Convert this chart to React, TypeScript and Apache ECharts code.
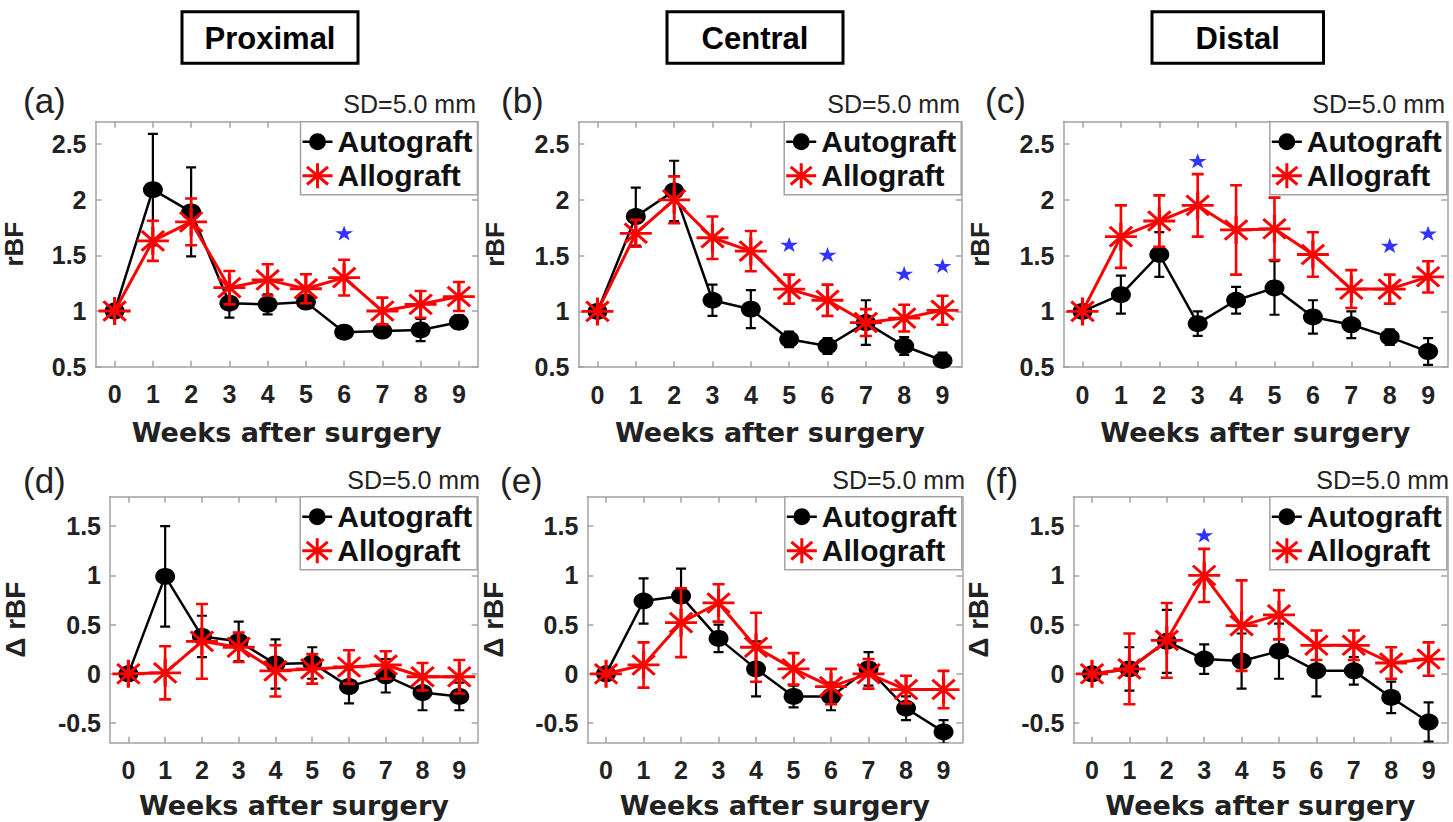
import React, { useEffect, useRef } from 'react';
import * as echarts from 'echarts';

// ---------- data ----------
const weeks = ['0', '1', '2', '3', '4', '5', '6', '7', '8', '9'];
const rbfTicks = [0.5, 1, 1.5, 2, 2.5];
const drbfTicks = [-0.5, 0, 0.5, 1, 1.5];
const columnTitles = ['Proximal', 'Central', 'Distal'];
const panelLetters = ['(a)', '(b)', '(c)', '(d)', '(e)', '(f)'];
const sdText = 'SD=5.0 mm';

// (a) Proximal rBF
const autoA = [1.0, 2.09, 1.89, 1.07, 1.06, 1.08, 0.81, 0.82, 0.83, 0.9];
const autoAErr = [0, 0.5, 0.4, 0.13, 0.09, 0.05, 0.03, 0.05, 0.1, 0.06];
const alloA = [1.0, 1.63, 1.8, 1.21, 1.28, 1.2, 1.3, 1.0, 1.06, 1.13];
const alloAErr = [0, 0.18, 0.21, 0.15, 0.14, 0.13, 0.16, 0.12, 0.12, 0.13];
const sigA = [null, null, null, null, null, null, 1.7, null, null, null];

// (b) Central rBF
const autoB = [1.0, 1.85, 2.08, 1.1, 1.02, 0.75, 0.69, 0.9, 0.69, 0.56];
const autoBErr = [0, 0.26, 0.27, 0.14, 0.17, 0.07, 0.07, 0.2, 0.08, 0.07];
const alloB = [1.0, 1.7, 2.0, 1.66, 1.54, 1.2, 1.1, 0.9, 0.94, 1.01];
const alloBErr = [0, 0.12, 0.21, 0.19, 0.18, 0.13, 0.14, 0.12, 0.12, 0.13];
const sigB = [null, null, null, null, null, 1.6, 1.51, null, 1.34, 1.41];

// (c) Distal rBF
const autoC = [1.0, 1.15, 1.51, 0.89, 1.1, 1.21, 0.95, 0.88, 0.77, 0.64];
const autoCErr = [0, 0.17, 0.2, 0.11, 0.12, 0.24, 0.15, 0.12, 0.07, 0.12];
const alloC = [1.0, 1.67, 1.81, 1.95, 1.73, 1.74, 1.51, 1.2, 1.2, 1.31];
const alloCErr = [0, 0.28, 0.23, 0.28, 0.4, 0.28, 0.2, 0.17, 0.13, 0.14];
const sigC = [null, null, null, 2.35, null, null, null, null, 1.59, 1.7];

// (d) Proximal delta rBF
const autoD = [0, 0.99, 0.38, 0.33, 0.1, 0.11, -0.13, -0.02, -0.19, -0.23];
const autoDErr = [0, 0.51, 0.21, 0.2, 0.25, 0.16, 0.17, 0.17, 0.18, 0.14];
const alloD = [0, 0.01, 0.33, 0.27, 0.03, 0.05, 0.07, 0.09, -0.03, -0.03];
const alloDErr = [0, 0.27, 0.38, 0.15, 0.26, 0.15, 0.17, 0.14, 0.14, 0.17];
const sigD = [null, null, null, null, null, null, null, null, null, null];

// (e) Central delta rBF
const autoE = [0, 0.74, 0.79, 0.36, 0.05, -0.23, -0.23, 0.05, -0.35, -0.59];
const autoEErr = [0, 0.23, 0.28, 0.14, 0.28, 0.11, 0.14, 0.17, 0.12, 0.12];
const alloE = [0, 0.09, 0.52, 0.72, 0.27, 0.05, -0.13, 0.0, -0.16, -0.16];
const alloEErr = [0, 0.23, 0.35, 0.19, 0.35, 0.16, 0.18, 0.15, 0.14, 0.19];
const sigE = [null, null, null, null, null, null, null, null, null, null];

// (f) Distal delta rBF
const autoF = [0, 0.05, 0.33, 0.15, 0.13, 0.23, 0.03, 0.03, -0.24, -0.49];
const autoFErr = [0, 0.22, 0.32, 0.15, 0.28, 0.28, 0.26, 0.14, 0.16, 0.2];
const alloF = [0, 0.05, 0.34, 1.0, 0.49, 0.6, 0.29, 0.29, 0.11, 0.15];
const alloFErr = [0, 0.36, 0.38, 0.27, 0.46, 0.25, 0.15, 0.15, 0.16, 0.17];
const sigF = [null, null, null, 1.41, null, null, null, null, null, null];

// ---------- styling / layout ----------
const W = 1453;
const H = 822;
const FONT = "'Liberation Sans', Arial, Helvetica, sans-serif";
const WIDE_FONT = "'DejaVu Sans', 'Liberation Sans', sans-serif";
const AXIS_GRAY = '#a3a3a3';
const TEXT = '#222222';
const RED = '#ff0000';

const ASTERISK =
  'path://M0 45L100 45L100 55L0 55Z M45 0L55 0L55 100L45 100Z M18.54 11.46L88.54 81.46L81.46 88.54L11.46 18.54Z M81.46 11.46L88.54 18.54L18.54 88.54L11.46 81.46Z';
const STAR =
  'path://M50 0L61.8 35.1L98.6 35.1L68.8 56.7L80.2 91.8L50 70.2L19.8 91.8L31.2 56.7L1.4 35.1L38.2 35.1Z';
// legend icons (30 x 26 box): line with marker
const LEGEND_CIRCLE =
  'path://M0 11.8L6.6 11.8L6.6 14.2L0 14.2Z M23.4 11.8L30 11.8L30 14.2L23.4 14.2Z M6.5 13A8.5 8.5 0 1 1 23.5 13A8.5 8.5 0 1 1 6.5 13Z';
const LEGEND_ASTERISK =
  'path://M0 11.5L30 11.5L30 14.5L0 14.5Z M13.5 0.5L16.5 0.5L16.5 25.5L13.5 25.5Z M5.46 3.05L26.46 20.65L24.54 22.95L3.54 5.35Z M26.46 5.35L5.46 22.95L3.54 20.65L24.54 3.05Z';

type Panel = {
  grid: { left: number; top: number; width: number; height: number };
  yMin: number;
  yMax: number;
  ticks: number[];
  yName: string;
  yNameGap: number;
  xNameGap: number;
  auto: number[];
  autoErr: number[];
  allo: number[];
  alloErr: number[];
  sig: (number | null)[];
  letterPos: [number, number];
  sdPos: [number, number];
};

const panels: Panel[] = [
  { grid: { left: 93, top: 121.7, width: 385, height: 245 }, yMin: 0.5, yMax: 2.7, ticks: rbfTicks, yName: 'rBF', yNameGap: 68.5, xNameGap: 52, auto: autoA, autoErr: autoAErr, allo: alloA, alloErr: alloAErr, sig: sigA, letterPos: [23, 100], sdPos: [476, 104] },
  { grid: { left: 578.3, top: 121.7, width: 383.4, height: 245.5 }, yMin: 0.5, yMax: 2.7, ticks: rbfTicks, yName: 'rBF', yNameGap: 70.5, xNameGap: 52, auto: autoB, autoErr: autoBErr, allo: alloB, alloErr: alloBErr, sig: sigB, letterPos: [501, 100], sdPos: [960, 104] },
  { grid: { left: 1063.3, top: 121.7, width: 384, height: 245.5 }, yMin: 0.5, yMax: 2.7, ticks: rbfTicks, yName: 'rBF', yNameGap: 70.3, xNameGap: 52, auto: autoC, autoErr: autoCErr, allo: alloC, alloErr: alloCErr, sig: sigC, letterPos: [985, 100], sdPos: [1445, 104] },
  { grid: { left: 102.7, top: 496.7, width: 375, height: 246 }, yMin: -0.7, yMax: 1.8, ticks: drbfTicks, yName: 'Δ rBF', yNameGap: 81, xNameGap: 49, auto: autoD, autoErr: autoDErr, allo: alloD, alloErr: alloDErr, sig: sigD, letterPos: [23, 480], sdPos: [480, 480] },
  { grid: { left: 587.3, top: 496.7, width: 375, height: 246 }, yMin: -0.7, yMax: 1.8, ticks: drbfTicks, yName: 'Δ rBF', yNameGap: 80, xNameGap: 49, auto: autoE, autoErr: autoEErr, allo: alloE, alloErr: alloEErr, sig: sigE, letterPos: [500, 480], sdPos: [965, 480] },
  { grid: { left: 1073.3, top: 496.7, width: 374, height: 246 }, yMin: -0.7, yMax: 1.8, ticks: drbfTicks, yName: 'Δ rBF', yNameGap: 81, xNameGap: 49, auto: autoF, autoErr: autoFErr, allo: alloF, alloErr: alloFErr, sig: sigF, letterPos: [985, 480], sdPos: [1449, 480] },
];

const headerBoxes = [
  { x: 182, y: 11.7, w: 176, h: 51.6 },
  { x: 667, y: 11.7, w: 176, h: 51.6 },
  { x: 1152, y: 11.7, w: 171.5, h: 51.6 },
];

function errRender(capHalf: number, color: string, lw: number) {
  return (_params: any, api: any) => {
    const x = api.value(0);
    const v = api.value(1);
    const e = api.value(2);
    if (!e) return { type: 'group', children: [] };
    const top = api.coord([x, v + e]);
    const bot = api.coord([x, v - e]);
    const style = { stroke: color, lineWidth: lw, fill: 'none' };
    return {
      type: 'group',
      children: [
        { type: 'line', shape: { x1: top[0], y1: top[1], x2: bot[0], y2: bot[1] }, style },
        { type: 'line', shape: { x1: top[0] - capHalf, y1: top[1], x2: top[0] + capHalf, y2: top[1] }, style },
        { type: 'line', shape: { x1: bot[0] - capHalf, y1: bot[1], x2: bot[0] + capHalf, y2: bot[1] }, style },
      ],
    };
  };
}

function buildOption() {
  const grids: any[] = [];
  const xAxes: any[] = [];
  const yAxes: any[] = [];
  const series: any[] = [];
  const legends: any[] = [];
  const graphics: any[] = [];

  const axisLine = { show: true, onZero: false, lineStyle: { color: AXIS_GRAY, width: 1.5 } };
  const tickStyle = { color: AXIS_GRAY, width: 1.5 };

  panels.forEach((p, i) => {
    grids.push({ left: p.grid.left, top: p.grid.top, width: p.grid.width, height: p.grid.height, containLabel: false });
    xAxes.push({
      type: 'category', gridIndex: i, data: weeks, position: 'bottom', boundaryGap: true,
      axisLine, axisTick: { show: true, inside: true, alignWithLabel: true, length: 6, lineStyle: tickStyle },
      axisLabel: { interval: 0, margin: 15, fontFamily: FONT, fontWeight: 'bold', fontSize: 25, color: TEXT },
      splitLine: { show: false },
      name: 'Weeks after surgery', nameLocation: 'middle', nameGap: p.xNameGap,
      nameTextStyle: { fontFamily: WIDE_FONT, fontWeight: 'bold', fontSize: 27, color: TEXT },
    });
    xAxes.push({
      type: 'category', gridIndex: i, data: weeks, position: 'top', boundaryGap: true,
      axisLine, axisTick: { show: true, inside: true, alignWithLabel: true, length: 6, lineStyle: tickStyle },
      axisLabel: { show: false }, splitLine: { show: false },
    });
    yAxes.push({
      type: 'value', gridIndex: i, position: 'left', min: p.yMin, max: p.yMax,
      axisLine, axisTick: { show: true, inside: true, length: 6, lineStyle: tickStyle, customValues: p.ticks },
      axisLabel: { customValues: p.ticks, margin: 9, fontFamily: FONT, fontWeight: 'bold', fontSize: 25, color: TEXT },
      splitLine: { show: false },
      name: p.yName, nameLocation: 'middle', nameRotate: 90, nameGap: p.yNameGap,
      nameTextStyle: { fontFamily: FONT, fontWeight: 'bold', fontSize: i < 3 ? 26 : 28, color: TEXT },
    });
    yAxes.push({
      type: 'value', gridIndex: i, position: 'right', min: p.yMin, max: p.yMax,
      axisLine, axisTick: { show: true, inside: true, length: 6, lineStyle: tickStyle, customValues: p.ticks },
      axisLabel: { show: false }, splitLine: { show: false },
    });

    const xi = i * 2;
    const yi = i * 2;
    series.push({
      type: 'custom', name: 'autoErr' + i, xAxisIndex: xi, yAxisIndex: yi, z: 2, clip: true,
      renderItem: errRender(5, '#000000', 2.2),
      data: weeks.map((_, k) => [k, p.auto[k], p.autoErr[k]]),
      encode: { x: 0, y: 1 }, silent: true,
    });
    series.push({
      type: 'line', name: 'Autograft', xAxisIndex: xi, yAxisIndex: yi, z: 3,
      data: p.auto, color: '#000000', symbol: 'circle', symbolSize: [20, 17], showAllSymbol: true,
      lineStyle: { color: '#000000', width: 2.5 }, itemStyle: { color: '#000000' },
    });
    series.push({
      type: 'custom', name: 'alloErr' + i, xAxisIndex: xi, yAxisIndex: yi, z: 4, clip: true,
      renderItem: errRender(6, RED, 2.6),
      data: weeks.map((_, k) => [k, p.allo[k], p.alloErr[k]]),
      encode: { x: 0, y: 1 }, silent: true,
    });
    series.push({
      type: 'line', name: 'Allograft', xAxisIndex: xi, yAxisIndex: yi, z: 5,
      data: p.allo, color: RED, symbol: ASTERISK, symbolSize: [32, 28], showAllSymbol: true,
      lineStyle: { color: RED, width: 3 }, itemStyle: { color: RED },
    });
    if (p.sig.some((v) => v !== null)) {
      series.push({
        type: 'scatter', name: 'sig' + i, xAxisIndex: xi, yAxisIndex: yi, z: 6,
        data: p.sig.map((v) => (v === null ? '-' : v)),
        symbol: STAR, symbolSize: [18, 15], itemStyle: { color: '#0000ff' }, silent: true,
      });
    }

    legends.push({
      orient: 'vertical', right: W - (p.grid.left + p.grid.width) + 0.5, top: p.grid.top,
      itemWidth: 30, itemHeight: 26, itemGap: 4,
      padding: [5, 5, 4, 2], backgroundColor: '#ffffff', borderColor: AXIS_GRAY, borderWidth: 1.5,
      itemStyle: { borderWidth: 0 },
      textStyle: { fontFamily: FONT, fontWeight: 'bold', fontSize: 30, color: '#111111', lineHeight: 30 },
      selectedMode: false, z: 20,
      data: [
        { name: 'Autograft', icon: LEGEND_CIRCLE },
        { name: 'Allograft', icon: LEGEND_ASTERISK },
      ],
    });

    graphics.push({
      type: 'text', x: p.letterPos[0], y: p.letterPos[1], z: 30,
      style: { text: panelLetters[i], font: `normal 35px ${FONT}`, fill: TEXT, align: 'left', verticalAlign: 'middle', textAlign: 'left', textVerticalAlign: 'middle' },
    });
    graphics.push({
      type: 'text', x: p.sdPos[0], y: p.sdPos[1], z: 30,
      style: { text: sdText, font: `normal 25px ${FONT}`, fill: TEXT, align: 'right', verticalAlign: 'middle', textAlign: 'right', textVerticalAlign: 'middle' },
    });
  });

  headerBoxes.forEach((b, i) => {
    graphics.push({
      type: 'rect', z: 30,
      shape: { x: b.x, y: b.y, width: b.w, height: b.h },
      style: { fill: '#ffffff', stroke: '#000000', lineWidth: 3 },
    });
    graphics.push({
      type: 'text', z: 31, x: b.x + b.w / 2, y: b.y + b.h / 2 + 1,
      style: { text: columnTitles[i], font: `bold 31px ${FONT}`, fill: '#000000', align: 'center', verticalAlign: 'middle', textAlign: 'center', textVerticalAlign: 'middle' },
    });
  });

  return {
    animation: false,
    backgroundColor: '#ffffff',
    grid: grids,
    xAxis: xAxes,
    yAxis: yAxes,
    legend: legends,
    series,
    graphic: { elements: graphics },
  };
}

export default function App() {
  const ref = useRef<HTMLDivElement>(null);
  useEffect(() => {
    document.body.style.margin = '0';
    if (!ref.current) return;
    const chart = echarts.init(ref.current, null, { renderer: 'svg', width: W, height: H });
    chart.setOption(buildOption() as any);
    return () => chart.dispose();
  }, []);
  return <div ref={ref} style={{ position: 'absolute', left: 0, top: 0, width: W, height: H }} />;
}
